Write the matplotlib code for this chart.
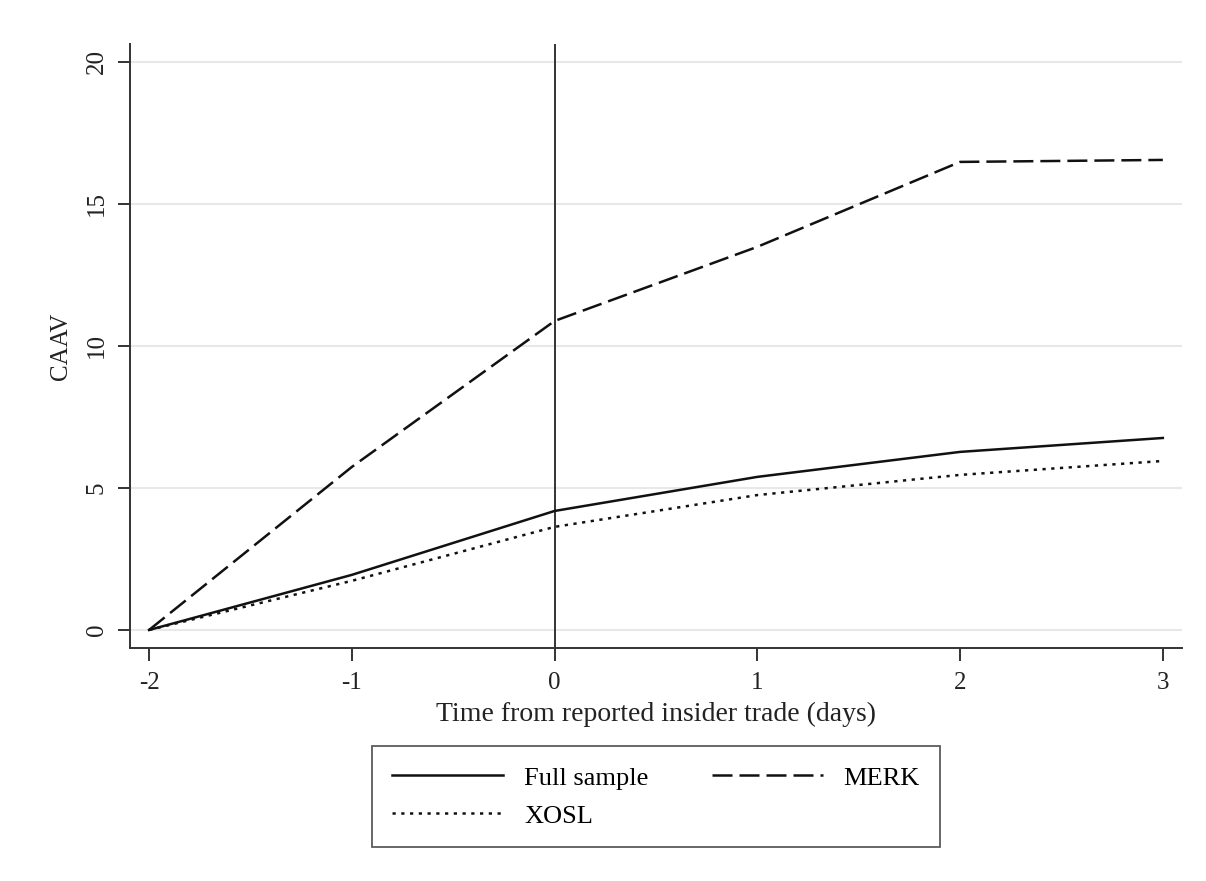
import matplotlib
matplotlib.use('Agg')

import matplotlib.pyplot as plt

# Event days and cumulative abnormal volume per sample
days = [-2, -1, 0, 1, 2, 3]
full_sample = [0, 1.94, 4.19, 5.39, 6.27, 6.76]
merk = [0, 5.74, 10.88, 13.49, 16.48, 16.55]
xosl = [0, 1.73, 3.63, 4.75, 5.46, 5.95]

y_ticks = [0, 5, 10, 15, 20]

plt.rcParams['font.family'] = ['Liberation Serif', 'DejaVu Serif']

fig = plt.figure(figsize=(12.06, 8.81), dpi=100)
ax = fig.add_axes([0.1078, 0.2645, 0.8722, 0.6855])

# light horizontal grid, Stata-like
for t in y_ticks:
    ax.axhline(t, color='#e8e8e8', linewidth=1.5, zorder=0)

ax.axvline(0, color='#333333', linewidth=1.4, zorder=1)

lw = 1.8
h_full, = ax.plot(days, full_sample, color='#111111', linewidth=lw, label='Full sample', zorder=3)
h_merk, = ax.plot(days, merk, color='#111111', linewidth=lw, dashes=(8, 2.8), label='MERK', zorder=3)
h_xosl, = ax.plot(days, xosl, color='#111111', linewidth=lw, dashes=(1.3, 2.2), label='XOSL', zorder=3)

ax.set_xlim(-2.094, 3.094)
ax.set_ylim(-0.634, 20.63)
ax.set_xticks(days)
ax.set_xticklabels([str(d) for d in days])
ax.set_yticks(y_ticks)
ax.set_yticklabels([str(t) for t in y_ticks], rotation=90, va='center')

ax.spines['top'].set_visible(False)
ax.spines['right'].set_visible(False)
for s in ['left', 'bottom']:
    ax.spines[s].set_color('#333333')
    ax.spines[s].set_linewidth(1.4)

ax.tick_params(axis='both', direction='out', length=9, width=1.4, color='#333333',
               labelsize=18, labelcolor='#222222')
ax.tick_params(axis='x', pad=8)
ax.tick_params(axis='y', pad=7)

ax.set_xlabel('Time from reported insider trade (days)', fontsize=20, color='#222222', labelpad=6)
ax.set_ylabel('CAAV', fontsize=18, color='#222222', labelpad=10)

# row-wise order as in the original: Full sample, MERK / XOSL
leg = fig.legend([h_full, h_xosl, h_merk], ['Full sample', 'XOSL', 'MERK'],
                 loc='center', bbox_to_anchor=(0.544, 0.0955), ncol=2, fontsize=19,
                 frameon=True, fancybox=False, edgecolor='#333333',
                 handlelength=4.2, handletextpad=0.8, columnspacing=2.4,
                 borderpad=0.75, labelspacing=0.55, borderaxespad=0)
leg.get_frame().set_linewidth(1.3)

fig.savefig('out.png', dpi=100, facecolor='white')
